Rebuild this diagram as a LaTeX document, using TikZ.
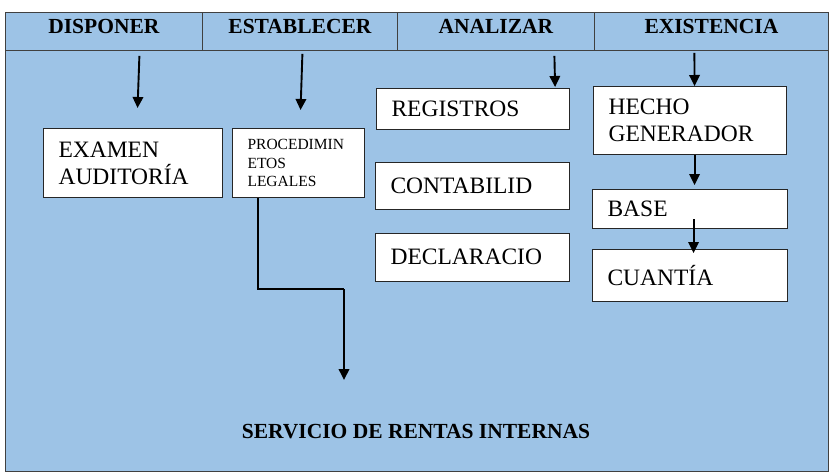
\documentclass[tikz,border=0pt]{standalone}
\usepackage{fontspec}
\setmainfont{Liberation Serif}
\usetikzlibrary{arrows.meta,calc}
\definecolor{bgblue}{HTML}{9DC3E6}
\definecolor{edgegray}{HTML}{404040}
\tikzset{
  hdr/.style={draw=edgegray, line width=0.8pt, fill=bgblue, anchor=north west,
    minimum height=38pt, inner xsep=0pt, inner ysep=6pt, text height=15pt, text depth=11pt,
    font=\fontsize{21.5}{24}\selectfont\bfseries},
  bigbox/.style={draw=black!85, line width=1.1pt, fill=white, anchor=north west,
    inner xsep=15pt, inner ysep=0pt, align=left,
    font=\fontsize{23.5}{27}\selectfont},
  smallbox/.style={bigbox, font=\fontsize{15.5}{18.5}\selectfont},
  arr/.style={line width=1.9pt, -{Triangle[length=11pt,width=10.5pt]}},
  title/.style={font=\fontsize{21.5}{24}\selectfont\bfseries}
}
\begin{document}
\begin{tikzpicture}[x=1pt,y=1pt]
\useasboundingbox (0,0) rectangle (834,-474);
\fill[white] (0,0) rectangle (834,-474);
% main panel
\draw[draw=edgegray, line width=0.8pt, fill=bgblue] (5,-12) rectangle (828,-471);
% header cells
\node[hdr, minimum width=197pt] (h1) at (5,-12) {DISPONER};
\node[hdr, minimum width=195pt] (h2) at (202,-12) {ESTABLECER};
\node[hdr, minimum width=197pt] (h3) at (397,-12) {ANALIZAR};
\node[hdr, minimum width=234pt] (h4) at (594,-12) {EXISTENCIA};
% boxes
\node[bigbox, text width=149pt, minimum height=69pt] (exam) at (43,-128) {EXAMEN\\AUDITORÍA};
\node[smallbox, text width=102pt, minimum height=69pt] (proc) at (232,-128) {PROCEDIMIN\\ETOS\\LEGALES};
\node[bigbox, text width=163pt, minimum height=41pt] (reg) at (376,-88) {REGISTROS};
\node[bigbox, text width=164pt, minimum height=47pt] (cont) at (375,-162) {CONTABILID};
\node[bigbox, text width=164pt, minimum height=48pt] (decl) at (375,-233) {\raisebox{2pt}{DECLARACIO}};
\node[bigbox, text width=163pt, minimum height=68pt] (hecho) at (593,-86) {HECHO\\GENERADOR};
\node[bigbox, text width=165pt, minimum height=39pt] (base) at (592,-189) {BASE};
\node[bigbox, text width=165pt, minimum height=52pt] (cuan) at (592,-249) {CUANTÍA};
% bottom title
\node[title] (sri) at (416,-432) {SERVICIO DE RENTAS INTERNAS};
% free end points
\coordinate (pbend) at (344,-289);
\coordinate (srin) at (344,-380);
% connectors
\draw[arr] ([xshift=35.5pt,yshift=-5pt]h1.south) -- ([xshift=4.5pt,yshift=20pt]exam.north);
\draw[arr] ([xshift=2.5pt,yshift=-3pt]h2.south) -- ([xshift=2pt,yshift=18pt]proc.north);
\draw[arr] ([xshift=58.5pt,yshift=-5pt]h3.south) -- ([xshift=-15pt,yshift=1pt]reg.north east);
\draw[arr] ([xshift=-17pt,yshift=-2pt]h4.south) -- ([xshift=4.5pt]hecho.north);
\draw[arr] ([xshift=4.5pt]hecho.south) -- ([xshift=4.5pt,yshift=4pt]base.north);
\draw[arr] ([xshift=3.5pt,yshift=10pt]base.south) -- ([xshift=3.5pt,yshift=-4pt]cuan.north);
\draw[line width=1.9pt] ([xshift=26pt]proc.south west) |- (pbend);
\draw[arr] (pbend) -- (srin);
\end{tikzpicture}
\end{document}
